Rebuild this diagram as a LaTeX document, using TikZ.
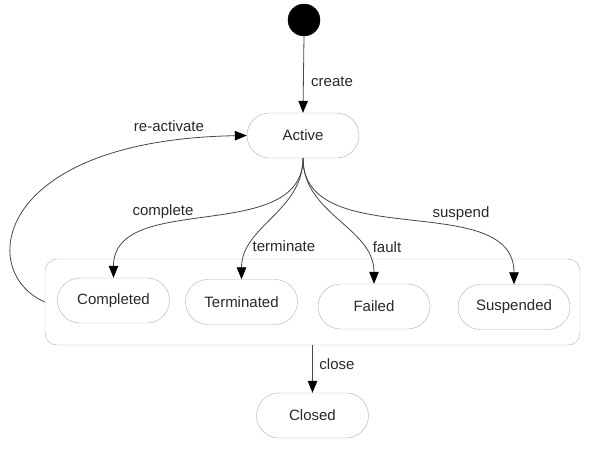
\documentclass[tikz,border=0pt]{standalone}
\usepackage{fontspec}
\setmainfont{Liberation Sans}
\usepackage{xcolor}
\definecolor{edgegray}{RGB}{70,70,70}
\definecolor{boxgray}{RGB}{175,175,175}
\definecolor{textgray}{RGB}{40,40,40}
\usetikzlibrary{arrows.meta}
\usetikzlibrary{shapes.misc}
\tikzset{
    common/.style={draw=boxgray, text=textgray, font=\fontsize{15}{18}\selectfont},
    state/.style={common, rounded rectangle, minimum width=112pt, minimum height=45pt, inner sep=0pt},
    initial/.style={circle, fill=black, draw=black, minimum size=32pt, inner sep=0pt},
    composite/.style={common, rectangle, rounded corners=12pt, minimum width=535pt, minimum height=86pt},
    tr/.style={->, draw=edgegray, line width=0.8pt},
    lbl/.style={text=textgray, font=\fontsize{15}{18}\selectfont, inner sep=0pt}
}

\begin{document}
\begin{tikzpicture}[x=1pt, y=1pt, >={Triangle[length=12pt, width=9.5pt, color=black]}]
    \useasboundingbox (0,0) rectangle (600,-448);
    % states
    \node[composite] (terminal) at (312.5,-302) {};
    \node[initial] (start) at (304,-20) {};
    \node[state] (active) at (303,-135.5) {Active};
    \node[state] (completed) at (113.5,-300.5) {Completed};
    \node[state] (terminated) at (241.5,-302) {Terminated};
    \node[state] (failed) at (374,-306.5) {Failed};
    \node[state] (suspended) at (514,-307) {Suspended};
    \node[state] (closed) at (312.5,-415.5) {Closed};

    % labels
    \node[lbl, anchor=west] (lcreate) at (311,-82) {create};
    \node[lbl] (lreact) at (169,-126) {re-activate};
    \node[lbl] (lcomplete) at (163,-212) {complete};
    \node[lbl] (lterminate) at (284,-246) {terminate};
    \node[lbl] (lfault) at (387,-247) {fault};
    \node[lbl] (lsuspend) at (461,-214) {suspend};
    \node[lbl] (lclose) at (337,-364) {close};

    % transitions
    \draw[tr] (start.south) -- (active.north);
    \draw[tr] (active.south) to[out=-90, in=90] (completed.north);
    \draw[tr] (active.south) to[out=-90, in=90] (terminated.north);
    \draw[tr] (active.south) to[out=-90, in=90] (failed.north);
    \draw[tr] (active.south) to[out=-90, in=90] (suspended.north);
    \draw[tr] (terminal.west) .. controls (-24,-272) and (-6,-140) .. (active.west);
    \draw[tr] (terminal.south) -- (closed.north);
\end{tikzpicture}
\end{document}
